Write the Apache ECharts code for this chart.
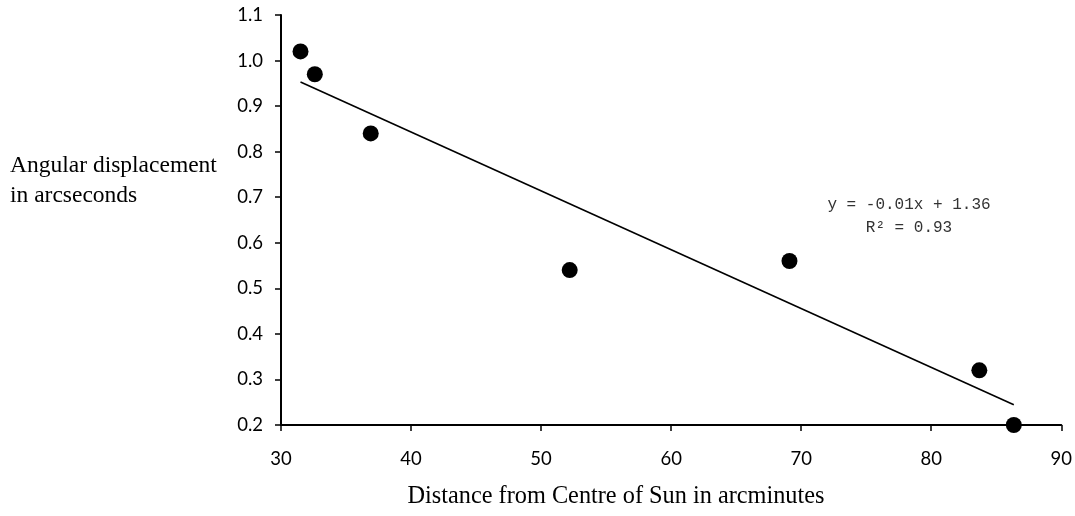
<!DOCTYPE html>
<html>
<head>
<meta charset="utf-8">
<script src="https://cdn.jsdelivr.net/npm/echarts@6/dist/echarts.min.js"></script>
<style>
  html, body { margin: 0; padding: 0; background: #fff; }
  #chart { width: 1075px; height: 516px; }
</style>
</head>
<body>
<div id="chart"></div>
<script>
// distance from centre of sun (arcmin) and deflection (arcsec)
var distArcmin = [31.5, 32.6, 36.9, 52.2, 69.1, 83.7, 86.35];
var deflArcsec = [1.02, 0.97, 0.84, 0.54, 0.56, 0.32, 0.20];
var xTicks = [30, 40, 50, 60, 70, 80, 90];
var yTicks = [0.2, 0.3, 0.4, 0.5, 0.6, 0.7, 0.8, 0.9, 1.0, 1.1];

// least squares line through the points
function linfit(xs, ys) {
  var n = xs.length, mx = 0, my = 0;
  for (var i = 0; i < n; i++) { mx += xs[i]; my += ys[i]; }
  mx /= n; my /= n;
  var sxy = 0, sxx = 0;
  for (var i = 0; i < n; i++) {
    sxy += (xs[i] - mx) * (ys[i] - my);
    sxx += (xs[i] - mx) * (xs[i] - mx);
  }
  var b = sxy / sxx;
  return { slope: b, icpt: my - b * mx };
}
var fit = linfit(distArcmin, deflArcsec);
var xMin = Math.min.apply(null, distArcmin);
var xMax = Math.max.apply(null, distArcmin);
var trend = [
  [xMin, fit.icpt + fit.slope * xMin],
  [xMax, fit.icpt + fit.slope * xMax]
];

var pts = [];
for (var i = 0; i < distArcmin.length; i++) {
  pts.push([distArcmin[i], deflArcsec[i]]);
}

var tickFont = 'Lato, "Open Sans", sans-serif';
var serif = '"Liberation Serif", "Times New Roman", serif';

var chart = echarts.init(document.getElementById('chart'));
chart.setOption({
  animation: false,
  backgroundColor: '#fff',
  grid: { left: 281, right: 12, top: 15, bottom: 91 },
  xAxis: {
    type: 'value',
    min: xTicks[0],
    max: xTicks[xTicks.length - 1],
    interval: 10,
    splitLine: { show: false },
    axisLine: { lineStyle: { color: '#000', width: 2 } },
    axisTick: { show: true, length: 6, lineStyle: { color: '#000', width: 1.5 } },
    axisLabel: { color: '#000', fontSize: 18.5, fontFamily: tickFont, margin: 25 }
  },
  yAxis: {
    type: 'value',
    min: yTicks[0],
    max: yTicks[yTicks.length - 1],
    interval: 0.1,
    splitLine: { show: false },
    axisLine: { show: true, lineStyle: { color: '#000', width: 2 } },
    axisTick: { show: true, length: 6, lineStyle: { color: '#000', width: 1.5 } },
    axisLabel: {
      color: '#000', fontSize: 18.5, fontFamily: tickFont, margin: 18,
      formatter: function (v) { return v.toFixed(1); }
    }
  },
  series: [
    {
      type: 'line',
      data: trend,
      symbol: 'none',
      lineStyle: { color: '#000', width: 1.6 },
      z: 2
    },
    {
      type: 'scatter',
      data: pts,
      symbolSize: 16,
      itemStyle: { color: '#000', opacity: 1 },
      z: 3
    }
  ],
  graphic: [
    {
      type: 'text', x: 10, y: 151,
      style: {
        text: 'Angular displacement\nin arcseconds',
        font: '23.5px ' + serif, fill: '#000', lineHeight: 30
      }
    },
    {
      type: 'text', x: 616, y: 485,
      style: {
        text: 'Distance from Centre of Sun in arcminutes',
        font: '24.3px ' + serif, fill: '#000', align: 'center'
      }
    },
    {
      type: 'text', x: 909, y: 193,
      style: {
        text: 'y = -0.01x + 1.36\nR\u00b2 = 0.93',
        font: '16px "Liberation Mono", "DejaVu Sans Mono", monospace',
        fill: '#333', align: 'center', lineHeight: 23
      }
    }
  ]
});
</script>
</body>
</html>
